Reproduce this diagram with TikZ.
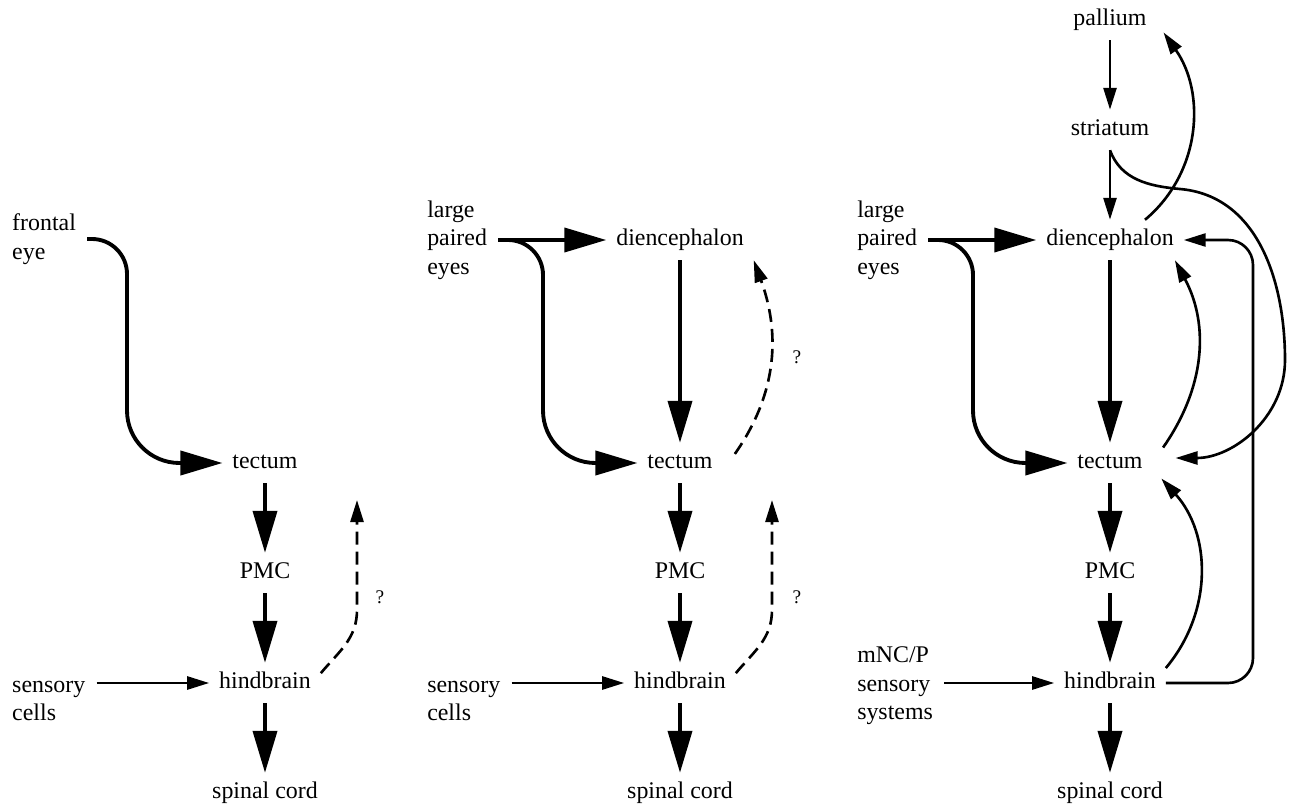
\documentclass[tikz,border=0pt]{standalone}
\usepackage{fontspec}
\setmainfont{Liberation Serif}
\usetikzlibrary{arrows.meta}
\tikzset{
    brain/.style = {inner xsep=5.5pt, inner ysep=5.3pt,
        text height=9pt, text depth=3pt},
    source/.style = {align=left, anchor=west, inner xsep=6.2pt, inner ysep=0pt},
    bigarrow/.style = {draw, line width=2.2pt, -{Triangle[length=8.4mm,width=4.8mm]}},
    smallarrow/.style = {draw, line width=1.5pt, -{Triangle[length=4.4mm,width=2.6mm]}},
    doubtarrow/.style = {smallarrow, dash pattern=on 7.4pt off 4pt},
    query/.style = {font=\fontsize{11}{13}\selectfont}
}

\begin{document}
\begin{tikzpicture}[node distance=2.2cm, font=\fontsize{13.6}{16.2}\selectfont]
    \useasboundingbox (0,0) rectangle (25.88,-16.08);

    % frontal eye
    \node [brain] (tectum1) at (5.3,-9.26) {tectum};
    \node [brain, below of=tectum1] (pmc1) {PMC};
    \node [brain, below of=pmc1] (hind1) {hindbrain};
    \node [brain, below of=hind1] (spinal1) {spinal cord};
    \node [source] (eye1) at (0.02,-4.78) {frontal\\eye};
    \node [source] (sens1) at (0.02,-14.02) {sensory\\cells};
    \coordinate (bend1) at (2.54,-7);
    \coordinate (q1) at (7.14,-10);
    \node [query] (qm1) at (7.6,-11.94) {?};
    \draw [bigarrow, rounded corners=0.7cm] (eye1.east) -| (bend1) [rounded corners=1.05cm] |- (tectum1.west);
    \draw [bigarrow] (tectum1) -- (pmc1);
    \draw [bigarrow] (pmc1) -- (hind1);
    \draw [bigarrow] (hind1) -- (spinal1);
    \draw [smallarrow] (sens1.east |- hind1) -- (hind1);
    \draw [doubtarrow] (hind1.10) to[out=50,in=-90] ([yshift=-2.2cm]q1) -- (q1);

    % paired eyes
    \node [brain] (dien2) at (13.6,-4.8) {diencephalon};
    \node [brain, below of=dien2, node distance=4.46cm] (tectum2) {tectum};
    \node [brain, below of=tectum2] (pmc2) {PMC};
    \node [brain, below of=pmc2] (hind2) {hindbrain};
    \node [brain, below of=hind2] (spinal2) {spinal cord};
    \node [source] (eyes2) at (8.32,-4.8) {large\\paired\\eyes};
    \node [source] (sens2) at (8.32,-14.02) {sensory\\cells};
    \coordinate (bend2) at (10.86,-7);
    \coordinate (q2) at (15.44,-10);
    \node [query] (qm2a) at (15.94,-7.14) {?};
    \node [query] (qm2b) at (15.94,-11.94) {?};
    \draw [bigarrow] (eyes2.east) -- (dien2.west);
    \draw [bigarrow, rounded corners=0.7cm] (eyes2.east) -| (bend2) [rounded corners=1.05cm] |- (tectum2.west);
    \draw [bigarrow] (dien2) -- (tectum2);
    \draw [bigarrow] (tectum2) -- (pmc2);
    \draw [bigarrow] (pmc2) -- (hind2);
    \draw [bigarrow] (hind2) -- (spinal2);
    \draw [smallarrow] (sens2.east |- hind2) -- (hind2);
    \draw [doubtarrow] ([xshift=7pt]tectum2.12) to[out=55,in=-70] (dien2.south east);
    \draw [doubtarrow] (hind2.10) to[out=50,in=-90] ([yshift=-2.2cm]q2) -- (q2);

    % forebrain
    \node [brain] (dien3) at (22.2,-4.8) {diencephalon};
    \node [brain, above of=dien3] (stri3) {striatum};
    \node [brain, above of=stri3] (pall3) {pallium};
    \node [brain, below of=dien3, node distance=4.46cm] (tectum3) {tectum};
    \node [brain, below of=tectum3] (pmc3) {PMC};
    \node [brain, below of=pmc3] (hind3) {hindbrain};
    \node [brain, below of=hind3] (spinal3) {spinal cord};
    \node [source] (eyes3) at (16.92,-4.8) {large\\paired\\eyes};
    \node [source] (sys3) at (16.92,-13.72) {mNC/P\\sensory\\systems};
    \coordinate (bend3) at (19.46,-7);
    \coordinate (loop3) at (25.06,-9);
    \coordinate (arc3a) at (23.6,-3.78);
    \coordinate (arc3b) at (25.7,-7.2);
    \draw [bigarrow] (eyes3.east) -- (dien3.west);
    \draw [bigarrow, rounded corners=0.7cm] (eyes3.east) -| (bend3) [rounded corners=1.05cm] |- (tectum3.west);
    \draw [bigarrow] (dien3) -- (tectum3);
    \draw [bigarrow] (tectum3) -- (pmc3);
    \draw [bigarrow] (pmc3) -- (hind3);
    \draw [bigarrow] (hind3) -- (spinal3);
    \draw [smallarrow] (sys3.east |- hind3) -- (hind3);
    \draw [smallarrow] (pall3) -- (stri3);
    \draw [smallarrow] (stri3) -- (dien3);
    \draw [smallarrow] (dien3.30) to[out=40,in=-55] ([xshift=4pt]pall3.-15);
    \draw [smallarrow] (stri3.south) to[out=-70,in=175] (arc3a) to[out=-5,in=90] (arc3b) to[out=-90,in=0] ([xshift=0.46cm,yshift=0.1cm]tectum3.east);
    \draw [smallarrow] ([xshift=6pt]tectum3.20) to[out=55,in=-62] ([xshift=-5pt]dien3.south east);
    \draw [smallarrow] (hind3.15) to[out=50,in=-48] ([xshift=5pt]tectum3.-20);
    \draw [smallarrow, rounded corners=0.5cm] (hind3.east) -| (loop3) |- (dien3.east);
\end{tikzpicture}
\end{document}
